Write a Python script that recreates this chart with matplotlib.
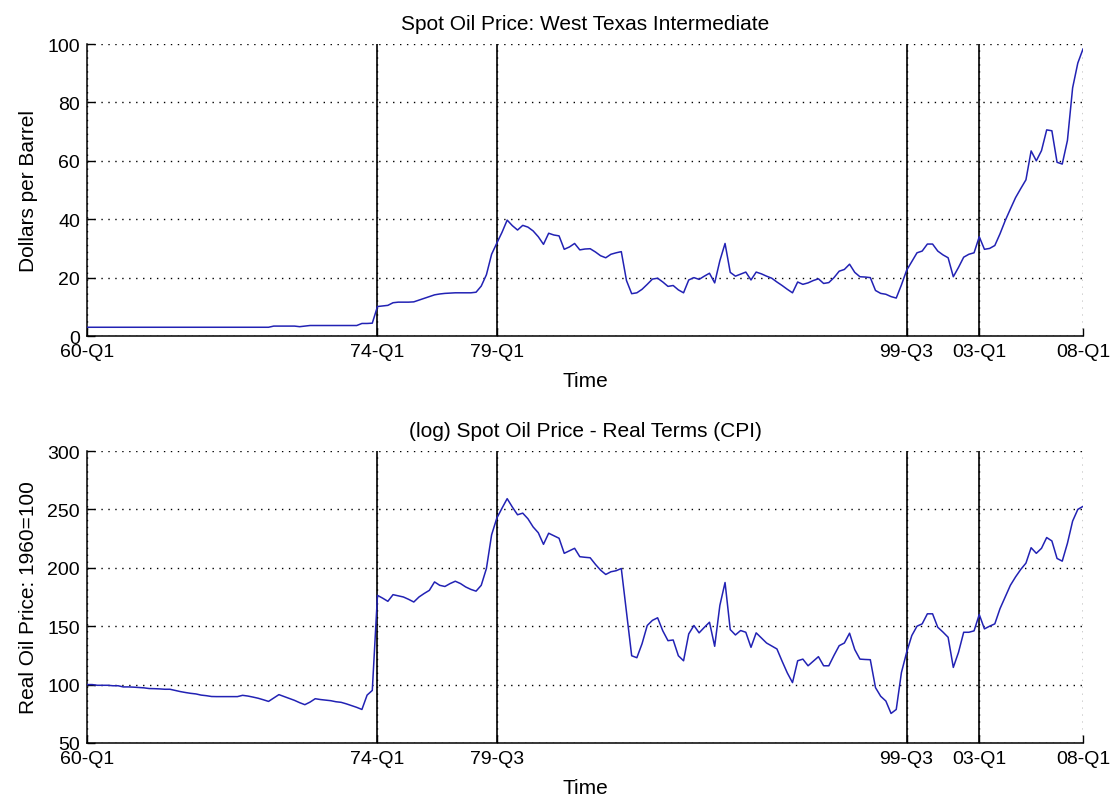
import numpy as np
import matplotlib
matplotlib.use("Agg")
import matplotlib.pyplot as plt

# quarterly data, 1960-Q1 .. 2008-Q1
wti_price = [
    3.0, 3.0, 3.0, 3.0, 3.0, 3.0, 3.0, 3.0, 3.0, 3.0,
    3.0, 3.0, 3.0, 3.0, 3.0, 3.0, 3.0, 3.0, 3.0, 3.0,
    3.0, 3.0, 3.0, 3.0, 3.0, 3.0, 3.0, 3.0, 3.0, 3.0,
    3.0, 3.0, 3.0, 3.0, 3.0, 3.0, 3.4, 3.4, 3.4, 3.4,
    3.4, 3.2, 3.4, 3.6, 3.6, 3.6, 3.6, 3.6, 3.6, 3.6,
    3.6, 3.6, 3.6, 4.3, 4.3, 4.4, 10.1, 10.3, 10.5, 11.4,
    11.6, 11.6, 11.6, 11.7, 12.3, 12.9, 13.5, 14.1, 14.4, 14.6,
    14.7, 14.8, 14.8, 14.8, 14.8, 15.0, 17.1, 21.0, 28.0, 31.8,
    35.5, 39.7, 37.8, 36.3, 37.9, 37.3, 36.0, 34.0, 31.4, 35.2,
    34.6, 34.3, 29.7, 30.5, 31.7, 29.5, 29.8, 29.9, 28.8, 27.5,
    26.8, 28.0, 28.5, 28.9, 19.0, 14.5, 14.8, 16.0, 17.7, 19.5,
    19.8, 18.5, 17.0, 17.3, 15.8, 14.8, 19.2, 20.0, 19.4, 20.5,
    21.5, 18.2, 25.8, 31.7, 21.8, 20.5, 21.2, 21.9, 19.2, 21.9,
    21.3, 20.5, 19.8, 18.5, 17.3, 16.0, 14.8, 18.5, 17.7, 18.2,
    19.0, 19.6, 18.0, 18.3, 20.0, 22.2, 22.8, 24.6, 21.8, 20.3,
    20.2, 20.0, 15.6, 14.6, 14.3, 13.5, 13.0, 17.5, 22.5, 25.5,
    28.5, 29.1, 31.5, 31.5, 29.1, 27.8, 26.8, 20.3, 23.5, 27.0,
    28.0, 28.5, 34.0, 29.7, 30.0, 31.0, 35.0, 39.5, 43.5, 47.4,
    50.5, 53.5, 63.4, 60.0, 63.5, 70.6, 70.3, 59.5, 58.9, 67.0,
    85.0, 93.5, 98.3]

real_price = [
    100.0, 100.0, 99.4, 99.4, 99.4, 99.0, 99.0, 98.0, 98.0, 97.8,
    97.5, 97.2, 96.6, 96.5, 96.3, 96.0, 96.0, 95.0, 94.0, 93.2,
    92.5, 92.0, 91.0, 90.5, 89.8, 89.7, 89.7, 89.7, 89.7, 89.7,
    90.8, 90.2, 89.3, 88.3, 87.0, 85.6, 88.5, 91.4, 89.8, 88.3,
    86.5, 84.5, 82.8, 85.0, 87.9, 87.2, 86.7, 86.2, 85.3, 84.8,
    83.5, 82.0, 80.5, 78.7, 91.0, 95.0, 176.4, 174.0, 171.3, 177.0,
    176.0, 175.0, 173.0, 170.7, 175.0, 178.0, 180.7, 187.9, 185.0, 184.0,
    186.5, 188.5, 186.5, 183.6, 181.5, 180.0, 185.0, 199.4, 228.2, 242.5,
    251.0, 259.2, 252.0, 245.4, 246.8, 242.0, 235.0, 230.0, 220.1, 229.6,
    227.5, 225.3, 212.4, 214.5, 216.7, 209.5, 209.0, 208.6, 203.0, 198.0,
    194.3, 196.6, 197.5, 199.4, 162.0, 124.7, 123.0, 135.0, 150.6, 155.0,
    157.2, 146.0, 137.6, 138.2, 124.7, 120.4, 143.4, 150.6, 144.3, 149.0,
    153.4, 132.8, 167.8, 187.4, 147.1, 142.5, 146.3, 144.8, 131.9, 144.3,
    140.0, 135.6, 133.0, 130.5, 120.0, 110.0, 101.7, 120.4, 121.8, 116.1,
    120.0, 123.9, 116.1, 116.1, 125.0, 133.3, 135.6, 144.0, 130.0, 121.8,
    121.5, 121.3, 97.4, 90.0, 85.9, 75.3, 78.7, 110.3, 127.6, 142.0,
    150.0, 152.0, 160.6, 160.6, 149.1, 145.0, 140.5, 114.7, 127.6, 144.8,
    144.8, 146.0, 160.0, 147.7, 150.0, 152.0, 165.0, 175.0, 185.0, 192.2,
    198.6, 204.0, 217.2, 212.4, 216.7, 225.9, 223.0, 208.0, 205.7, 221.0,
    240.0, 250.0, 252.6]

# tick positions are quarter indices counted from 60-Q1
tick_pos = [0, 56, 79, 158, 172, 192]
top_labels = ["60-Q1", "74-Q1", "79-Q1", "99-Q3", "03-Q1", "08-Q1"]
bottom_labels = ["60-Q1", "74-Q1", "79-Q3", "99-Q3", "03-Q1", "08-Q1"]
breaks = [56, 79, 158, 172]

plt.rcParams['font.family'] = ['Liberation Sans', 'DejaVu Sans']
TICK_FS = 14
TEXT_FS = 15
LINE_COLOR = '#2222b4'


def draw_panel(ax, values, labels, title, ylabel, ylim, yticks):
    q = np.arange(len(values))
    ax.plot(q, values, color=LINE_COLOR, lw=1.1, zorder=3)
    for b in breaks:
        ax.axvline(b, color='black', lw=1.2, zorder=2)
    ax.set_xlim(0, len(values) - 1)
    ax.set_ylim(*ylim)
    ax.set_xticks(tick_pos)
    ax.set_xticklabels(labels)
    ax.set_yticks(yticks)
    ax.grid(True, color='black', linestyle=(0, (1, 4)), lw=1.0)
    ax.set_axisbelow(True)
    for side in ['top', 'right']:
        ax.spines[side].set_visible(False)
    for side in ['left', 'bottom']:
        ax.spines[side].set_linewidth(1.1)
    ax.tick_params(direction='in', length=6, width=1.0, labelsize=TICK_FS)
    ax.tick_params(axis='x', pad=5)
    ax.tick_params(axis='y', pad=5)
    ax.set_title(title, fontsize=TEXT_FS, pad=11)
    ax.set_xlabel("Time", fontsize=TEXT_FS, labelpad=8)
    ax.set_ylabel(ylabel, fontsize=TEXT_FS, labelpad=7)


fig = plt.figure(figsize=(11.15, 8.03), dpi=100)
ax1 = fig.add_axes([0.078, 0.5803, 0.8933, 0.3636])
ax2 = fig.add_axes([0.078, 0.0735, 0.8933, 0.3636])

draw_panel(ax1, wti_price, top_labels, "Spot Oil Price: West Texas Intermediate",
           "Dollars per Barrel", (0, 100), [0, 20, 40, 60, 80, 100])
draw_panel(ax2, real_price, bottom_labels, "(log) Spot Oil Price - Real Terms (CPI)",
           "Real Oil Price: 1960=100", (50, 300), [50, 100, 150, 200, 250, 300])

fig.savefig("out.png", dpi=100)
